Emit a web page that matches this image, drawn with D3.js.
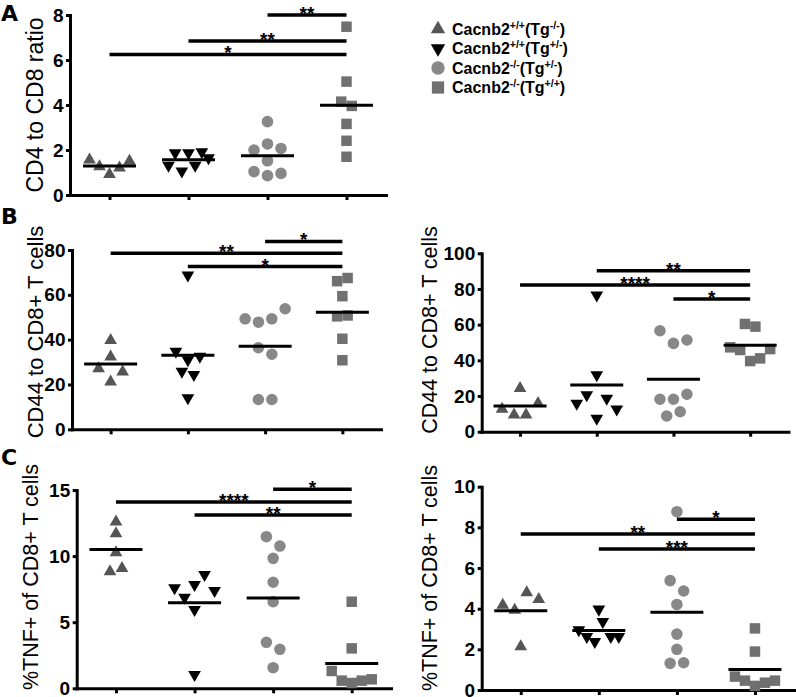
<!DOCTYPE html>
<html><head><meta charset="utf-8">
<script src="https://cdn.jsdelivr.net/npm/d3@7"></script>
<style>body{margin:0;background:#fff;} svg{display:block;}</style>
</head><body>
<svg id="chart" width="796" height="697"></svg>
<script>
// ---------------- DATA ----------------
const groupLabels = [
  {base: "Cacnb2", sup1: "+/+", tg: "-/-"},
  {base: "Cacnb2", sup1: "+/+", tg: "+/-"},
  {base: "Cacnb2", sup1: "-/-", tg: "+/-"},
  {base: "Cacnb2", sup1: "-/-", tg: "+/+"}
];

// Panel A: CD4 to CD8 ratio
const ratio_g1 = [0.92, 1.21, 1.26, 1.51, 1.56];
const ratio_g2 = [1.87, 1.31, 1.06, 1.91, 1.87, 1.65, 1.31];
const ratio_g3 = [3.26, 2.27, 2.07, 2.0, 1.52, 0.86, 0.96, 1.04];
const ratio_g4 = [7.48, 5.04, 3.96, 4.15, 3.16, 2.41, 1.70];
const ticksA = [0, 2, 4, 6, 8];
const sigA = [
  {from: 2, level: 8.0, label: "**"},
  {from: 1, level: 6.84, label: "**"},
  {from: 0, level: 6.25, label: "*"}
];

// Panel B left: CD44 to CD8+ T cells
const cd44L_g1 = [39.7, 32.3, 21.2, 25.6, 27.1];
const cd44L_g2 = [68.8, 31.0, 32.5, 34.7, 24.4, 25.8, 14.0];
const cd44L_g3 = [49.3, 47.8, 53.8, 49.3, 33.5, 36.4, 13.3, 13.3];
const cd44L_g4 = [67.5, 66.1, 59.4, 50.8, 50.4, 40.4, 30.8];
const ticksBL = [0, 20, 40, 60, 80];
const sigBL = [
  {from: 2, level: 83.8, label: "*"},
  {from: 0, level: 78.5, label: "**"},
  {from: 1, level: 72.6, label: "*"}
];

// Panel B right: CD44 to CD8+ T cells
const cd44R_g1 = [24.3, 9.4, 9.4, 15.9, 12.7];
const cd44R_g2 = [76.6, 31.8, 7.5, 18.7, 20.6, 12.6, 15.9];
const cd44R_g3 = [49.5, 51.4, 56.6, 18.2, 21.0, 18.2, 11.2, 8.8];
const cd44R_g4 = [39.6, 41.1, 45.8, 46.3, 47.3, 58.9, 60.4];
const ticksBR = [0, 20, 40, 60, 80, 100];
const sigBR = [
  {from: 1, level: 90.2, label: "**"},
  {from: 0, level: 82.2, label: "****"},
  {from: 2, level: 74.4, label: "*"}
];

// Panel C left: %TNF+ of CD8+ T cells
const tnfL_g1 = [12.6, 11.7, 10.26, 9.08, 8.82];
const tnfL_g2 = [7.84, 8.6, 5.95, 6.88, 7.39, 7.59, 1.03];
const tnfL_g3 = [10.76, 11.47, 9.83, 8.02, 6.55, 2.95, 3.48, 1.56];
const tnfL_g4 = [6.55, 3.02, 0.4, 0.58, 0.58, 0.68, 1.31];
const ticksCL = [0, 5, 10, 15];
const sigCL = [
  {from: 2, level: 15.05, label: "*"},
  {from: 0, level: 14.1, label: "****"},
  {from: 1, level: 13.1, label: "**"}
];

// Panel C right: %TNF+ of CD8+ T cells
const tnfR_g1 = [4.79, 3.93, 4.46, 4.18, 2.13];
const tnfR_g2 = [3.97, 3.36, 2.38, 2.62, 2.62, 2.62, 2.95];
const tnfR_g3 = [8.77, 4.87, 5.38, 4.21, 2.75, 2.0, 1.34, 1.31];
const tnfR_g4 = [3.03, 1.89, 0.2, 0.36, 0.46, 0.46, 0.66];
const ticksCR = [0, 2, 4, 6, 8, 10];
const sigCR = [
  {from: 2, level: 8.4, label: "*"},
  {from: 0, level: 7.67, label: "**"},
  {from: 1, level: 6.94, label: "***"}
];

// ---------------- STYLE / LAYOUT ----------------
const markerTypes = ["triUp", "triDown", "circle", "square"];
const markerColors = ["#555555", "#000000", "#888888", "#707070"];
const markerArea = {triUp: 70, triDown: 70, circle: 105, square: 110};
const markerSpacing = {triUp: 12, triDown: 12, circle: 13.5, square: 10.5};
const legendArea = {triUp: 90, triDown: 90, circle: 140, square: 150};

const panels = [
  {groups: [ratio_g1, ratio_g2, ratio_g3, ratio_g4], ticks: ticksA, sig: sigA, max: 8,
   x0: 70, x1: 386, yTop: 15, yBot: 195, title: "CD4 to CD8 ratio", titleX: 43, titleY: 105, titleSize: 23,
   letter: "A", letterY: 21},
  {groups: [cd44L_g1, cd44L_g2, cd44L_g3, cd44L_g4], ticks: ticksBL, sig: sigBL, max: 80,
   x0: 72, x1: 381, yTop: 250, yBot: 429.3, title: "CD44 to CD8+ T cells", titleX: 43, titleY: 332, titleSize: 22,
   letter: "B", letterY: 224},
  {groups: [cd44R_g1, cd44R_g2, cd44R_g3, cd44R_g4], ticks: ticksBR, sig: sigBR, max: 100,
   x0: 481.7, x1: 788.5, yTop: 253.3, yBot: 431.7, title: "CD44 to CD8+ T cells", titleX: 437, titleY: 330, titleSize: 21.5},
  {groups: [tnfL_g1, tnfL_g2, tnfL_g3, tnfL_g4], ticks: ticksCL, sig: sigCL, max: 15,
   x0: 76.7, x1: 391, yTop: 490, yBot: 688.3, title: "%TNF+ of CD8+ T cells", titleX: 38, titleY: 577, titleSize: 21.5,
   letter: "C", letterY: 465},
  {groups: [tnfR_g1, tnfR_g2, tnfR_g3, tnfR_g4], ticks: ticksCR, sig: sigCR, max: 10,
   x0: 481.7, x1: 794, yTop: 486.7, yBot: 690, title: "%TNF+ of CD8+ T cells", titleX: 437, titleY: 578, titleSize: 21.5}
];

const svg = d3.select("#chart");
const SANS = "'Liberation Sans', Arial, Helvetica, sans-serif";
const LETTERFONT = "'DejaVu Sans', 'Liberation Sans', sans-serif";

function symbolPath(type, area) {
  if (type === "circle") return d3.symbol(d3.symbolCircle, area)();
  if (type === "square") return d3.symbol(d3.symbolSquare, area)();
  return d3.symbol(d3.symbolTriangle, area)();
}

// Row-based symmetric dodge (scatter dot plot style)
function layoutGroup(values, yScale, spacing, maxW, thr) {
  const pts = values.map((v, i) => ({v, i, y: yScale(v), dx: 0}));
  const sorted = pts.slice().sort((a, b) => (b.y - a.y) || (a.i - b.i));
  const rows = [];
  let row = null;
  sorted.forEach(p => {
    if (row && Math.abs(p.y - row[row.length - 1].y) <= thr) row.push(p);
    else { row = [p]; rows.push(row); }
  });
  rows.forEach(r => {
    r.sort((a, b) => a.i - b.i);
    const n = r.length;
    const s = n > 1 ? Math.min(spacing, maxW / (n - 1)) : spacing;
    r.forEach((p, k) => {
      let slot;
      if (n % 2 === 1) slot = k === 0 ? 0 : (k % 2 === 1 ? (k + 1) / 2 : -(k / 2));
      else slot = k % 2 === 0 ? (k / 2 + 0.5) : -((k - 1) / 2 + 0.5);
      p.dx = slot * s;
    });
  });
  return pts;
}

panels.forEach(P => {
  const g = svg.append("g");
  const x = d3.scaleLinear().domain([-0.5, 3.5]).range([P.x0, P.x1]);
  const y = d3.scaleLinear().domain([0, P.max]).range([P.yBot, P.yTop]);

  // y axis
  const yAxis = g.append("g").attr("transform", `translate(${P.x0},0)`)
    .attr("font-family", SANS).attr("font-size", 19).attr("font-weight", "bold")
    .call(d3.axisLeft(y).tickValues(P.ticks).tickSize(4).tickPadding(2.5).tickSizeOuter(0));
  yAxis.attr("font-family", SANS).attr("font-size", 19).attr("font-weight", "bold");
  yAxis.select(".domain").attr("stroke-width", 3).attr("stroke-linecap", "square");
  yAxis.selectAll(".tick line").attr("stroke-width", 3);
  yAxis.selectAll(".tick text")
    .style("font-family", SANS).style("font-weight", "700")
    .style("font-size", "19px").attr("fill", "#000");

  // x axis
  const xAxis = g.append("g").attr("transform", `translate(0,${P.yBot})`)
    .call(d3.axisBottom(x).tickValues([0, 1, 2, 3]).tickSize(5).tickFormat("").tickSizeOuter(0));
  xAxis.select(".domain").attr("stroke-width", 3).attr("stroke-linecap", "square");
  xAxis.selectAll(".tick line").attr("stroke-width", 3);

  // points
  P.groups.forEach((vals, gi) => {
    const type = markerTypes[gi];
    const pts = layoutGroup(vals, y, markerSpacing[type], 40, 10.5);
    g.selectAll(null).data(pts).enter().append("path")
      .attr("d", symbolPath(type, markerArea[type]))
      .attr("transform", d => `translate(${x(gi) + d.dx},${d.y})` + (type === "triDown" ? " rotate(180)" : ""))
      .attr("fill", markerColors[gi]);
  });

  // mean lines
  g.selectAll(null).data(P.groups).enter().append("line")
    .attr("x1", (d, i) => x(i) - 26.5).attr("x2", (d, i) => x(i) + 26.5)
    .attr("y1", d => y(d3.mean(d))).attr("y2", d => y(d3.mean(d)))
    .attr("stroke", "#000").attr("stroke-width", 3);

  // significance bars
  g.selectAll(null).data(P.sig).enter().append("line")
    .attr("x1", d => x(d.from)).attr("x2", x(3))
    .attr("y1", d => y(d.level)).attr("y2", d => y(d.level))
    .attr("stroke", "#000").attr("stroke-width", 3.5);
  g.selectAll(null).data(P.sig).enter().append("text")
    .attr("x", d => (x(d.from) + x(3)) / 2).attr("y", d => y(d.level) + 5)
    .attr("text-anchor", "middle").style("font-family", SANS).style("font-weight", "bold")
    .style("font-size", "19px").text(d => d.label);

  // axis title
  g.append("text")
    .attr("transform", `translate(${P.titleX},${P.titleY}) rotate(-90)`)
    .attr("text-anchor", "middle").style("font-family", SANS).style("font-size", P.titleSize + "px")
    .attr("fill", "#000").text(P.title);

  // panel letter
  if (P.letter) {
    g.append("text").attr("x", 1).attr("y", P.letterY)
      .style("font-family", LETTERFONT).style("font-weight", "bold").style("font-size", "22px")
      .text(P.letter);
  }
});

// legend
const legend = svg.append("g");
groupLabels.forEach((lab, i) => {
  const cy = 29 + i * 19.5;
  const type = markerTypes[i];
  legend.append("path")
    .attr("d", symbolPath(type, legendArea[type]))
    .attr("transform", `translate(438,${cy})` + (type === "triDown" ? " rotate(180)" : ""))
    .attr("fill", markerColors[i]);
  const t = legend.append("text").attr("x", 452).attr("y", cy + 5.5)
    .style("font-family", SANS).style("font-weight", "bold").style("font-size", "16px").attr("fill", "#000");
  t.append("tspan").text(lab.base);
  t.append("tspan").style("font-size", "10.5px").attr("dy", -6).text(lab.sup1);
  t.append("tspan").attr("dy", 6).text("(Tg");
  t.append("tspan").style("font-size", "10.5px").attr("dy", -6).text(lab.tg);
  t.append("tspan").attr("dy", 6).text(")");
});
</script>
</body></html>
